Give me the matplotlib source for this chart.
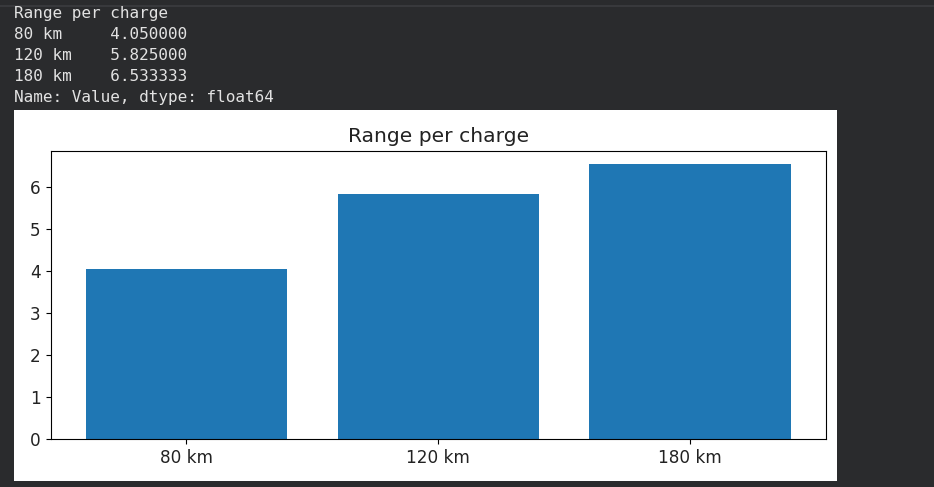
import matplotlib.pyplot as plt
from matplotlib.patches import Rectangle

# data
categories = ["80 km", "120 km", "180 km"]
values = [4.050000, 5.825000, 6.533333]
title = "Range per charge"

W, H = 934, 487
bg = "#2a2b2d"

fig = plt.figure(figsize=(W / 100, H / 100), dpi=100, facecolor=bg)

# thin separator line near the top of the notebook cell
fig.add_artist(plt.Line2D([0, 1], [1 - 5.5 / H, 1 - 5.5 / H], color="#3c3d40", linewidth=1.2))

# printed pandas series above the figure
lines = [title]
for c, v in zip(categories, values):
    lines.append(f"{c:<10}{v:.6f}")
lines.append("Name: Value, dtype: float64")
for i, s in enumerate(lines):
    y = 18 + i * 21.1
    fig.text(14 / W, 1 - y / H, s, color="#e2e2e2", fontsize=11.5,
             family=["DejaVu Sans Mono"], va="baseline", ha="left")

# white panel holding the inline figure (behind the axes)
fig.add_artist(Rectangle((14 / W, 1 - 481 / H), (837 - 14) / W, (481 - 110) / H,
                         transform=fig.transFigure, facecolor="white", edgecolor="none",
                         zorder=-1))

ax = fig.add_axes([50.5 / W, 1 - 439 / H, (826 - 50.5) / W, (439 - 150.5) / H])
ax.bar(categories, values, color="#1f77b4")
ax.set_title(title, fontsize=14.6, color="#222222")
ax.tick_params(labelsize=12.2, labelcolor="#222222")

fig.savefig("out.png", dpi=100, facecolor=bg)
